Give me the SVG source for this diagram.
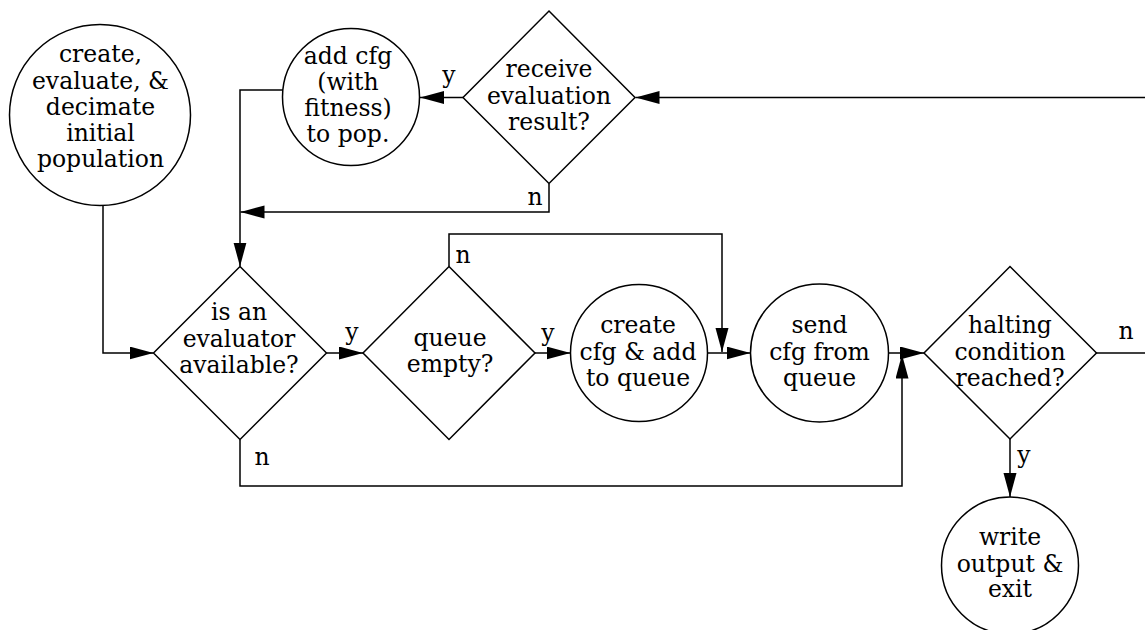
<svg xmlns="http://www.w3.org/2000/svg" width="1145" height="630" viewBox="0 0 1145 630">
  <style>
    .shape { fill: #ffffff; stroke: #000000; stroke-width: 1.5; }
    .edge { fill: none; stroke: #000000; stroke-width: 1.5; marker-end: url(#arrow); }
    .plain { fill: none; stroke: #000000; stroke-width: 1.5; }
    text { font-family: "DejaVu Serif", "Liberation Serif", serif; font-size: 23.5px; fill: #000000; text-anchor: middle; }
  </style>
  <defs>
    <marker id="arrow" markerUnits="userSpaceOnUse" markerWidth="25" markerHeight="14" refX="24" refY="6.5" orient="auto">
      <path d="M0,0 L24,6.5 L0,13 Z" fill="#000000"/>
    </marker>
  </defs>

  <rect x="0" y="0" width="1145" height="630" fill="#ffffff"/>

  <!-- connectors and branch labels -->
  <g id="connectors">
    <polyline class="edge" points="1145,97.5 635.5,97.5"/>
    <polyline class="edge" points="463,97.5 420,97.5"/>
    <text x="449" y="83">y</text>
    <polyline class="edge" points="283,90 240,90 240,266.5"/>
    <polyline class="edge" points="549,183.5 549,212 240.5,212"/>
    <text x="535" y="205">n</text>
    <polyline class="edge" points="103,205.5 103,353 153.5,353"/>
    <polyline class="edge" points="326.5,353 363,353"/>
    <text x="352" y="340">y</text>
    <polyline class="edge" points="535,353 570.5,353"/>
    <text x="548" y="341">y</text>
    <polyline class="edge" points="449,266.5 449,234 722,234 722,352"/>
    <text x="463" y="263">n</text>
    <polyline class="edge" points="707.5,353 750.5,353"/>
    <polyline class="edge" points="888.5,353 924,353"/>
    <polyline class="edge" points="240,439.5 240,486 902,486 902,354.5"/>
    <text x="262" y="465">n</text>
    <polyline class="plain" points="1096,353 1145,353"/>
    <text x="1126" y="339">n</text>
    <polyline class="edge" points="1010,439 1010,497"/>
    <text x="1024" y="463">y</text>
  </g>

  <!-- initial population -->
  <g id="init">
    <circle class="shape" cx="100" cy="115" r="90.5"/>
    <text x="100.5" y="62">create,</text>
    <text x="100.5" y="88.5">evaluate, &amp;</text>
    <text x="100.5" y="115">decimate</text>
    <text x="100.5" y="141">initial</text>
    <text x="100.5" y="167">population</text>
  </g>

  <!-- add cfg to population -->
  <g id="add-cfg">
    <circle class="shape" cx="351" cy="97" r="68.5"/>
    <text x="348" y="63.5">add cfg</text>
    <text x="348" y="89.8">(with</text>
    <text x="348" y="116">fitness)</text>
    <text x="348" y="142">to pop.</text>
  </g>

  <!-- receive evaluation result -->
  <g id="receive">
    <polygon class="shape" points="549,11 635,97.5 549,183.5 463,97.5"/>
    <text x="549" y="77">receive</text>
    <text x="549" y="103.5">evaluation</text>
    <text x="549" y="130">result?</text>
  </g>

  <!-- evaluator available -->
  <g id="available">
    <polygon class="shape" points="240,266.5 326.5,353 240,439.5 153.5,353"/>
    <text x="239" y="320">is an</text>
    <text x="239" y="346.5">evaluator</text>
    <text x="239" y="373">available?</text>
  </g>

  <!-- queue empty -->
  <g id="queue-empty">
    <polygon class="shape" points="449,266.5 535,353 449,439.5 363,353"/>
    <text x="450" y="345.5">queue</text>
    <text x="450" y="372">empty?</text>
  </g>

  <!-- create cfg -->
  <g id="create-cfg">
    <circle class="shape" cx="639" cy="353" r="68.5"/>
    <text x="638" y="333">create</text>
    <text x="638" y="360">cfg &amp; add</text>
    <text x="638" y="386">to queue</text>
  </g>

  <!-- send cfg -->
  <g id="send-cfg">
    <circle class="shape" cx="819.5" cy="353" r="69"/>
    <text x="819.5" y="333">send</text>
    <text x="819.5" y="360">cfg from</text>
    <text x="819.5" y="386">queue</text>
  </g>

  <!-- halting condition -->
  <g id="halting">
    <polygon class="shape" points="1010,266.5 1096.5,353 1010,439 924,353"/>
    <text x="1010" y="333">halting</text>
    <text x="1010" y="359.5">condition</text>
    <text x="1010" y="386">reached?</text>
  </g>

  <!-- write output -->
  <g id="write-output">
    <circle class="shape" cx="1010" cy="565.5" r="68.5"/>
    <text x="1010" y="545">write</text>
    <text x="1010" y="571.5">output &amp;</text>
    <text x="1010" y="597">exit</text>
  </g>
</svg>
